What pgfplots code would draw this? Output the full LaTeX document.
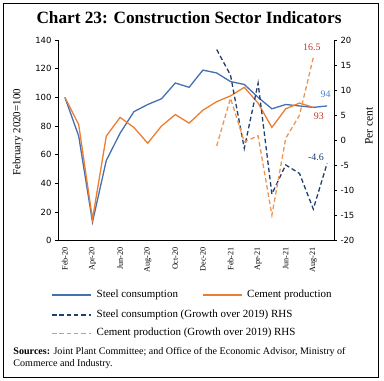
\documentclass[border=0pt]{standalone}
\usepackage{pgfplots}
\pgfplotsset{compat=1.18}
\usepackage{fontspec}
\setmainfont{Liberation Serif}
\newfontfamily\tickfont{DejaVu Sans}
\definecolor{steel}{HTML}{4470B0}
\definecolor{cement}{HTML}{ED7D31}
\definecolor{steelg}{HTML}{22406E}
\definecolor{cementg}{HTML}{EF9550}
\definecolor{lblred}{HTML}{C0392B}
\definecolor{lblblue}{HTML}{4A86C5}

\pgfplotstableread{
x y
0 100
1 73
2 13
3 56
4 75
5 90
6 95
7 99
8 110
9 107
10 119
11 117
12 111
13 109
14 100
15 92
16 95
17 94
18 93
19 94
}\steel
\pgfplotstableread{
x y
0 100
1 81
2 15
3 73
4 86
5 79
6 68
7 80
8 88
9 82
10 91
11 97
12 101
13 107
14 96
15 79
16 92
17 96
18 93
}\cement
\pgfplotstableread{
x y
11 18.1
12 13.0
13 -1.6
14 11.4
15 -10.7
16 -4.9
17 -6.6
18 -13.7
19 -4.6
}\steelg
\pgfplotstableread{
x y
11 -1.1
12 8.4
13 -0.3
14 0.9
15 -14.9
16 0.4
17 5.0
18 16.5
}\cementg

\begin{document}
\begin{tikzpicture}[x=1bp,y=1bp]
\useasboundingbox (0,0) rectangle (384,381);
\draw[line width=0.8bp] (3,4) rectangle (378,378);
\node[font=\fontsize{17.3}{20}\selectfont\bfseries] at (189,363) {Chart 23: Construction Sector Indicators};

\pgfplotsset{
  myaxis/.style={
    scale only axis, width=276bp, height=200.7bp,
    at={(58bp,140.3bp)}, anchor=south west,
    xmin=-0.5, xmax=19.5,
    tick align=outside,
    major tick length=3bp,
    axis line style={line width=0.6bp},
    every tick/.style={black, line width=0.6bp},
  }
}

\begin{axis}[myaxis,
  axis x line*=bottom, axis y line*=left,
  ymin=0, ymax=140, ytick={0,20,...,140},
  yticklabel style={font=\tickfont\fontsize{8.5}{10}\selectfont, /pgf/number format/assume math mode=true},
  xtick={0,2,...,18},
  xticklabels={Feb-20,Apr-20,Jun-20,Aug-20,Oct-20,Dec-20,Feb-21,Apr-21,Jun-21,Aug-21},
  xticklabel style={rotate=90, anchor=east, font=\fontsize{8.2}{9}\selectfont},
  x tick style={draw=none},
  minor xtick={-0.5,1.5,...,19.5},
  minor tick length=3bp,
  every minor tick/.style={black, line width=0.6bp},
  ylabel={February 2020=100},
  ylabel style={font=\fontsize{11}{12}\selectfont, at={(axis description cs:-0.115,0.54)}},
]
\addplot[steel, line width=1.3bp] table[x=x,y=y] {\steel};
\addplot[cement, line width=1.3bp] table[x=x,y=y] {\cement};
\node[lblblue, font=\fontsize{10}{11}\selectfont] at (axis cs:18.9,102) {94};
\node[lblred, font=\fontsize{10}{11}\selectfont] at (axis cs:18.4,86.5) {93};
\end{axis}

\begin{axis}[myaxis,
  axis x line=none, axis y line*=right,
  ymin=-20, ymax=20, ytick={-20,-15,...,20},
  yticklabel style={font=\tickfont\fontsize{8.5}{10}\selectfont, /pgf/number format/assume math mode=true},
  ylabel={Per cent},
  ylabel style={font=\fontsize{11.5}{12}\selectfont, at={(axis description cs:1.10,0.57)}},
]
\addplot[steelg, line width=1.3bp, dash pattern=on 4.5bp off 2.8bp] table[x=x,y=y] {\steelg};
\addplot[cementg, line width=1.3bp, dash pattern=on 4.5bp off 2.8bp] table[x=x,y=y] {\cementg};
\node[lblred, font=\fontsize{10}{11}\selectfont] at (axis cs:17.9,18.5) {16.5};
\node[steelg, font=\fontsize{10}{11}\selectfont] at (axis cs:18.2,-3.3) {-4.6};
\end{axis}

% legend
\begin{scope}[font=\fontsize{11}{12}\selectfont]
\draw[steel, line width=1.3bp] (52,86) -- (91,86);
\node[anchor=west, inner sep=0] at (96.5,86) {Steel consumption};
\draw[cement, line width=1.3bp] (203,86) -- (242,86);
\node[anchor=west, inner sep=0] at (247,86) {Cement production};
\draw[steelg, line width=1.3bp, dash pattern=on 4.5bp off 2.8bp] (52,66) -- (91,66);
\node[anchor=west, inner sep=0] at (96.5,66) {Steel consumption (Growth over 2019) RHS};
\draw[cementg, line width=1.3bp, dash pattern=on 4.5bp off 2.8bp] (52,47.7) -- (91,47.7);
\node[anchor=west, inner sep=0] at (96.5,47.7) {Cement production (Growth over 2019) RHS};
\end{scope}
\node[anchor=west, inner sep=0, font=\fontsize{10.1}{12}\selectfont] at (13.3,29) {\textbf{Sources:} Joint Plant Committee; and Office of the Economic Advisor, Ministry of};
\node[anchor=west, inner sep=0, font=\fontsize{10.1}{12}\selectfont] at (13.3,17) {Commerce and Industry.};
\end{tikzpicture}
\end{document}
